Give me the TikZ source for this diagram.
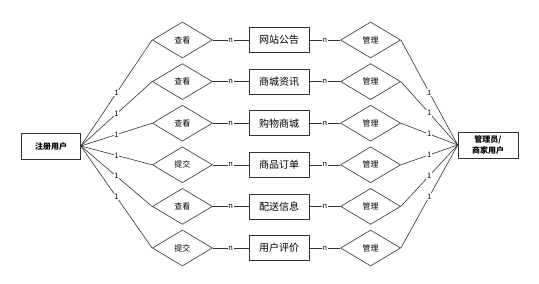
\documentclass[tikz,border=0pt]{standalone}
\usepackage{fontspec}
\setmainfont{Noto Sans CJK SC}
\usetikzlibrary{positioning,shapes.geometric}
\definecolor{ink}{HTML}{333333}
\tikzset{
  every node/.style={font=\rmfamily},
  entity/.style={draw=ink, line width=0.6pt, fill=white, minimum width=60pt, minimum height=25pt, inner sep=1pt, font=\fontsize{10}{11}\selectfont},
  actor/.style={entity, minimum width=59pt, minimum height=26pt, align=center, font=\bfseries\fontsize{8}{10.5}\selectfont},
  relation/.style={draw=ink, line width=0.6pt, diamond, fill=white, minimum width=60pt, minimum height=36pt, inner sep=0pt, font=\fontsize{8}{9}\selectfont},
  link/.style={draw=ink, line width=0.6pt},
  card/.style={fill=white, inner sep=0.8pt, font=\fontsize{7.5}{8}\selectfont},
}

\begin{document}
\begin{tikzpicture}[x=1pt, y=1pt, node distance=16pt and 36pt]
\useasboundingbox (0,0) rectangle (539,-284);
% entities in the middle column
\node[entity] (e1) at (279,-40) {网站公告};
\node[entity, below=of e1] (e2) {商城资讯};
\node[entity, below=of e2] (e3) {购物商城};
\node[entity, below=of e3] (e4) {商品订单};
\node[entity, below=of e4] (e5) {配送信息};
\node[entity, below=of e5] (e6) {用户评价};
% relations of the registered user
\node[relation, left=36pt of e1] (l1) {查看};
\node[relation, left=36pt of e2] (l2) {查看};
\node[relation, left=36pt of e3] (l3) {查看};
\node[relation, left=36pt of e4] (l4) {提交};
\node[relation, left=36pt of e5] (l5) {查看};
\node[relation, left=36pt of e6] (l6) {提交};
% relations of the administrator
\node[relation, right=31pt of e1] (r1) {管理};
\node[relation, right=31pt of e2] (r2) {管理};
\node[relation, right=31pt of e3] (r3) {管理};
\node[relation, right=31pt of e4] (r4) {管理};
\node[relation, right=31pt of e5] (r5) {管理};
\node[relation, right=31pt of e6] (r6) {管理};
% the two actors
\node[actor] (user) at (51,-146) {注册用户};
\node[actor, minimum width=60pt] (admin) at (488,-145) {管理员/\\商家用户};
\draw[link](user.east)--node[card]{1}(l1.west); \draw[link](user.east)--node[card]{1}(l2.west);
\draw[link](user.east)--node[card]{1}(l3.west); \draw[link](user.east)--node[card]{1}(l4.west);
\draw[link](user.east)--node[card]{1}(l5.west); \draw[link](user.east)--node[card]{1}(l6.west);
\draw[link](l1)--node[card]{n}(e1);\draw[link](l2)--node[card]{n}(e2);\draw[link](l3)--node[card]{n}(e3);
\draw[link](l4)--node[card]{n}(e4);\draw[link](l5)--node[card]{n}(e5);\draw[link](l6)--node[card]{n}(e6);
\draw[link](e1)--node[card]{n}(r1);\draw[link](e2)--node[card]{n}(r2);\draw[link](e3)--node[card]{n}(r3);
\draw[link](e4)--node[card]{n}(r4);\draw[link](e5)--node[card]{n}(r5);\draw[link](e6)--node[card]{n}(r6);
\draw[link](r1.east)--node[card]{1}(admin.west); \draw[link](r2.east)--node[card]{1}(admin.west);
\draw[link](r3.east)--node[card]{1}(admin.west); \draw[link](r4.east)--node[card]{1}(admin.west);
\draw[link](r5.east)--node[card]{1}(admin.west); \draw[link](r6.east)--node[card]{1}(admin.west);
\end{tikzpicture}
\end{document}
